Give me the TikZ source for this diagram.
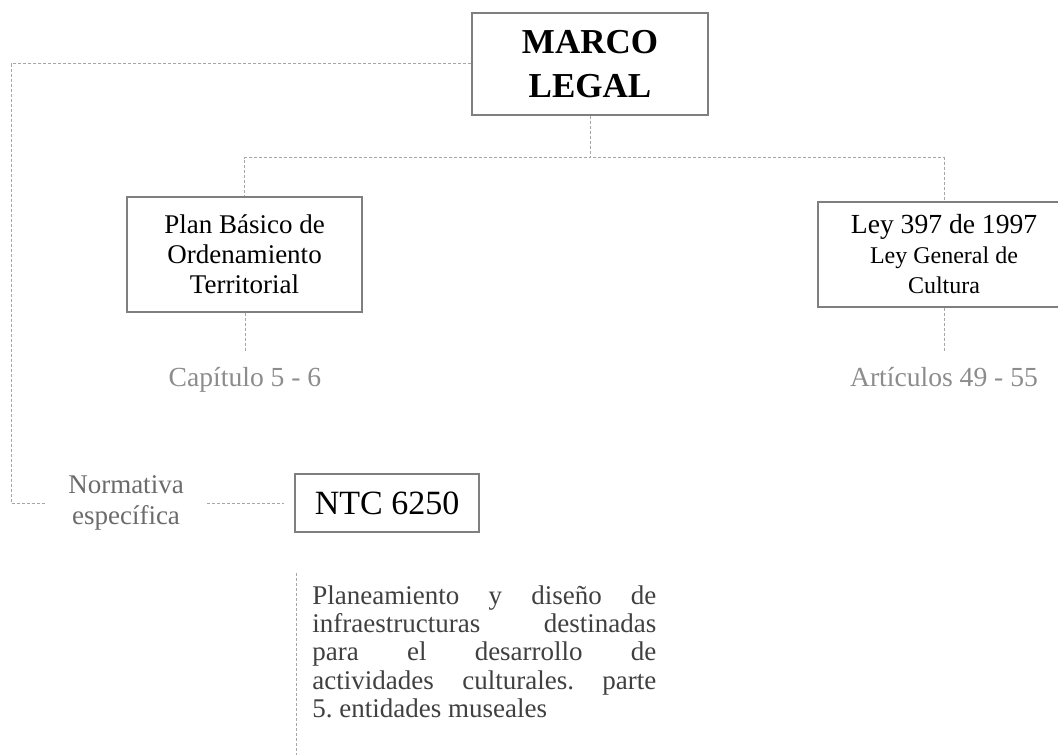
\documentclass[tikz,border=0pt]{standalone}
\usepackage{fontspec}
\setmainfont{Liberation Serif}
\usepackage{tikz}
\usetikzlibrary{positioning}
\definecolor{boxgray}{HTML}{7F7F7F}
\definecolor{linegray}{HTML}{A6A6A6}
\definecolor{notegray}{HTML}{8C8C8C}
\definecolor{normgray}{HTML}{6B6B6B}
\definecolor{textgray}{HTML}{404040}
\tikzstyle{block} = [rectangle, draw=boxgray, line width=0.7pt, align=center,
    inner sep=0pt, font=\fontsize{13.5}{15}\selectfont]
\tikzstyle{note} = [text=notegray, align=center, inner sep=0pt,
    font=\fontsize{13.8}{15}\selectfont]
\tikzstyle{line} = [draw=linegray, line width=0.5pt, dash pattern=on 1.5pt off 1pt]

\begin{document}
\begin{tikzpicture}[x=0.5pt,y=-0.5pt]
    \useasboundingbox (0,0) rectangle (1058,754);
    % Place nodes
    \node [block, minimum width=118pt, minimum height=51pt,
        font=\fontsize{17.5}{22}\selectfont\bfseries] (marco) at (590,64) {MARCO\\LEGAL};
    \node [block, minimum width=117.5pt, minimum height=57.5pt] (pbot) at (244.5,254.5)
        {Plan Básico de\\Ordenamiento\\Territorial};
    \node [block, minimum width=126pt, minimum height=52.5pt] (ley) at (944,254.5)
        {{\fontsize{13.8}{15}\selectfont Ley 397 de 1997}\\
         {\fontsize{12}{13.5}\selectfont Ley General de}\\
         {\fontsize{12}{13.5}\selectfont Cultura}};
    \node [note, anchor=base] (cap) at (245,386) {Capítulo 5 - 6};
    \node [note, anchor=base] (art) at (944,386) {Artículos 49 - 55};
    \node [note, text=normgray, inner xsep=11.5pt, font=\fontsize{13.5}{15.5}\selectfont]
        (norma) at (126,503) {Normativa\\específica};
    \node [block, minimum width=92pt, minimum height=29pt,
        font=\fontsize{17}{20}\selectfont] (ntc) at (387,503) {NTC 6250};
    \node [anchor=north west, inner xsep=8pt, inner ysep=6pt, text width=172pt,
        align=justify, text=textgray, font=\fontsize{13.5}{14.2}\selectfont\frenchspacing]
        (desc) at (296,573)
        {Planeamiento y diseño de\linebreak infraestructuras destinadas\linebreak
         para el desarrollo de\linebreak actividades culturales. parte\linebreak
         5. entidades museales};
    % Draw edges
    \path [line] (marco.west) -| (11,503) -- (norma.west);
    \path [line] (marco.south) -- ++(0,42) -| (pbot.north);
    \path [line] (marco.south) -- ++(0,42) -| (art.north |- ley.north);
    \path [line, shorten >=7pt] (pbot.south -| cap.north) -- (cap.north);
    \path [line, shorten >=7pt] (art.north |- ley.south) -- (art.north);
    \path [line, shorten >=5pt] (norma.east) -- (ntc.west);
    \path [line] (desc.north west) -- ++(0,184);
\end{tikzpicture}
\end{document}
